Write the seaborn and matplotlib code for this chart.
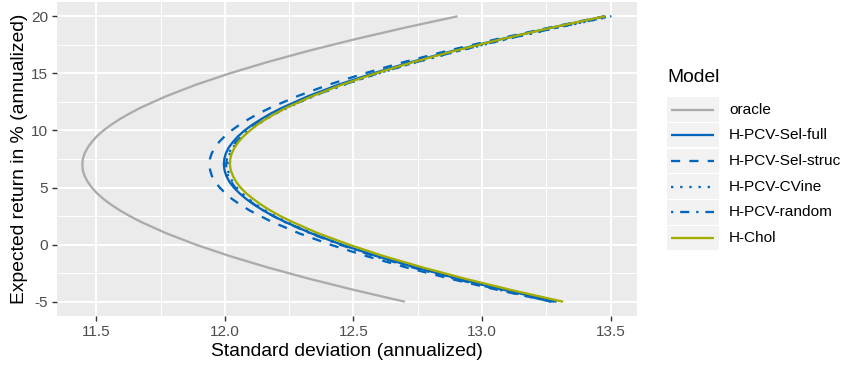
import matplotlib
matplotlib.use("Agg")
import matplotlib.pyplot as plt
import seaborn as sns
import pandas as pd
from matplotlib.patches import Rectangle
from matplotlib.lines import Line2D

# ---- data ----
returns = [-5, -4, -3, -2, -1, 0, 1, 2,
           2.5, 3, 3.5, 4, 4.5, 5, 5.5, 6, 6.5, 7, 7.5, 8, 8.5, 9, 9.5, 10,
           10.5, 11, 11.5, 12,
           13, 14, 15, 16, 17, 18, 19, 20]

sd_oracle = [12.700, 12.508, 12.330, 12.167, 12.019, 11.887, 11.772, 11.673,
             11.631, 11.592, 11.558, 11.528, 11.503, 11.483, 11.467, 11.455,
             11.448, 11.446, 11.448, 11.455, 11.467, 11.483, 11.503, 11.528,
             11.558, 11.592, 11.631, 11.673,
             11.772, 11.887, 12.019, 12.167, 12.330, 12.508, 12.700, 12.905]
sd_sel_full = [13.290, 13.093, 12.910, 12.742, 12.590, 12.454, 12.335, 12.233,
               12.189, 12.149, 12.114, 12.083, 12.057, 12.035, 12.018, 12.006,
               11.999, 11.996, 11.998, 12.004, 12.015, 12.032, 12.052, 12.077,
               12.107, 12.142, 12.180, 12.224,
               12.324, 12.441, 12.576, 12.726, 12.892, 13.074, 13.270, 13.480]
sd_sel_struc = [13.270, 13.067, 12.879, 12.706, 12.550, 12.410, 12.288, 12.183,
                12.138, 12.096, 12.060, 12.028, 12.002, 11.980, 11.963, 11.950,
                11.943, 11.940, 11.942, 11.949, 11.962, 11.978, 12.000, 12.026,
                12.057, 12.093, 12.133, 12.178,
                12.282, 12.403, 12.543, 12.698, 12.870, 13.058, 13.260, 13.476]
sd_cvine = [13.281, 13.086, 12.905, 12.740, 12.589, 12.456, 12.339, 12.238,
            12.195, 12.156, 12.122, 12.092, 12.067, 12.046, 12.030, 12.019,
            12.012, 12.010, 12.013, 12.020, 12.032, 12.049, 12.070, 12.095,
            12.126, 12.161, 12.200, 12.244,
            12.345, 12.463, 12.598, 12.749, 12.916, 13.097, 13.294, 13.503]
sd_random = [13.270, 13.076, 12.895, 12.730, 12.580, 12.447, 12.331, 12.232,
             12.188, 12.150, 12.116, 12.086, 12.061, 12.040, 12.025, 12.013,
             12.007, 12.005, 12.008, 12.015, 12.027, 12.044, 12.066, 12.091,
             12.122, 12.157, 12.197, 12.240,
             12.342, 12.460, 12.595, 12.746, 12.913, 13.094, 13.290, 13.500]
sd_chol = [13.315, 13.118, 12.936, 12.769, 12.617, 12.482, 12.362, 12.261,
           12.216, 12.176, 12.141, 12.110, 12.083, 12.061, 12.044, 12.032,
           12.023, 12.020, 12.021, 12.027, 12.038, 12.053, 12.073, 12.098,
           12.126, 12.160, 12.198, 12.240,
           12.339, 12.454, 12.586, 12.734, 12.898, 13.077, 13.270, 13.478]

models = ["oracle", "H-PCV-Sel-full", "H-PCV-Sel-struc", "H-PCV-CVine",
          "H-PCV-random", "H-Chol"]
series = [sd_oracle, sd_sel_full, sd_sel_struc, sd_cvine, sd_random, sd_chol]

x_ticks = [11.5, 12.0, 12.5, 13.0, 13.5]
x_tick_labels = ["11.5", "12.0", "12.5", "13.0", "13.5"]
y_ticks = [-5, 0, 5, 10, 15, 20]
y_tick_labels = ["-5", "0", "5", "10", "15", "20"]

# ---- styles ----
BLUE = "#0065BD"
GREEN = "#A2AD00"
GREY = "#ABABAB"
palette = {"oracle": GREY, "H-PCV-Sel-full": BLUE, "H-PCV-Sel-struc": BLUE,
           "H-PCV-CVine": BLUE, "H-PCV-random": BLUE, "H-Chol": GREEN}
dashes = {"oracle": "", "H-PCV-Sel-full": "", "H-PCV-Sel-struc": (4, 4),
          "H-PCV-CVine": (1, 3), "H-PCV-random": (1, 3, 4, 3), "H-Chol": ""}

rows = []
for m, s in zip(models, series):
    assert len(s) == len(returns)
    for r, v in zip(returns, s):
        rows.append({"Model": m, "sd": v, "ret": r})
df = pd.DataFrame(rows)

sns.set_theme(style="darkgrid")
plt.rcParams["font.family"] = ["Liberation Sans", "DejaVu Sans"]

W, H = 846, 367
fig = plt.figure(figsize=(W / 100, H / 100), dpi=100)
L, R, T, B = 57, 637, 2, 316
ax = fig.add_axes([L / W, 1 - B / H, (R - L) / W, (B - T) / H])
ax.set_facecolor("#EBEBEB")

LW = 1.65
sns.lineplot(data=df, x="sd", y="ret", hue="Model", style="Model",
             hue_order=models, style_order=models, palette=palette,
             dashes=dashes, sort=False, estimator=None, linewidth=LW,
             legend=False, ax=ax)
for ln in ax.get_lines():
    ln.set_solid_capstyle("butt")
    ln.set_dash_capstyle("butt")
    ln.set_solid_joinstyle("round")

ax.set_xlim(11.3475, 13.6025)
ax.set_ylim(-6.25, 21.25)
ax.set_xticks(x_ticks)
ax.set_xticklabels(x_tick_labels)
ax.set_yticks(y_ticks)
ax.set_yticklabels(y_tick_labels)
ax.set_xticks([11.75, 12.25, 12.75, 13.25], minor=True)
ax.set_yticks([-2.5, 2.5, 7.5, 12.5, 17.5], minor=True)
ax.grid(which="major", color="white", linewidth=1.4)
ax.grid(which="minor", color="white", linewidth=0.7)
ax.set_axisbelow(True)
for sp in ax.spines.values():
    sp.set_visible(False)
ax.tick_params(axis="both", which="major", length=3.5, width=1.0,
               color="#333333", labelcolor="#4D4D4D", labelsize=11.1, pad=2.8,
               bottom=True, left=True)
ax.tick_params(axis="both", which="minor", length=0)

ax.set_xlabel("Standard deviation (annualized)", fontsize=13.9, color="black")
ax.set_ylabel("Expected return in % (annualized)", fontsize=13.9, color="black")
ax.xaxis.label.set_va("center")
ax.yaxis.label.set_va("center")
ax.xaxis.set_label_coords(0.5, (B - 351) / (B - T))
ax.yaxis.set_label_coords((20 - L) / (R - L), 0.5)

# ---- legend (drawn in pixel coordinates) ----
lax = fig.add_axes([0, 0, 1, 1])
lax.set_xlim(0, W)
lax.set_ylim(H, 0)
lax.axis("off")
lax.patch.set_alpha(0)
lax.text(667, 78, "Model", fontsize=13.9, va="center", ha="left", color="black")
row0, step = 109.5, 25.7
for i, m in enumerate(models):
    cy = row0 + i * step
    lax.add_patch(Rectangle((667, cy - 12.2), 51.5, 24.4, facecolor="#F2F2F2",
                            edgecolor="none"))
    ls = "-" if dashes[m] == "" else (0, dashes[m])
    lax.add_line(Line2D([671, 714], [cy, cy], color=palette[m], linewidth=LW,
                        linestyle=ls, solid_capstyle="butt",
                        dash_capstyle="butt"))
    lax.text(729, cy, m, fontsize=11.1, va="center", ha="left", color="black")

fig.savefig("out.png", dpi=100)
